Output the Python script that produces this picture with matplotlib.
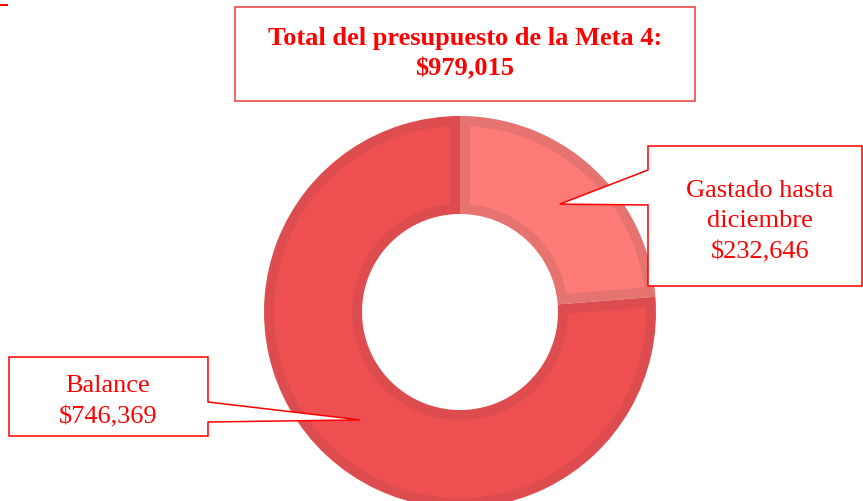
import numpy as np
import matplotlib.pyplot as plt
from matplotlib.patches import Polygon, Rectangle

# datos del presupuesto
categorias = ['Gastado hasta diciembre', 'Balance']
montos = [232646, 746369]
total = 979015
colores = ['#FF7B77', '#EE5052']
bordes = ['#E5736F', '#DD4D4F']

W, H = 863, 502
CX, CY = 460, 313      # centro de la dona (pixeles, desde arriba)
R, ANCHO = 196, 98
MARGEN = 10            # grosor del borde interior de cada sector
ROJO = '#FF0000'

plt.rcParams['font.family'] = ['Liberation Serif', 'DejaVu Serif']

fig = plt.figure(figsize=(W / 100, H / 100), dpi=100)
ax = fig.add_axes([0, 0, 1, 1])


def py(y):
    # pixel desde arriba -> coordenada de datos
    return H - y


# sectores con el color del borde
wedges, _ = ax.pie(montos, colors=bordes, startangle=90, counterclock=False,
                   radius=R, center=(CX, py(CY)),
                   wedgeprops=dict(width=ANCHO, linewidth=0))

# relleno interior de cada sector, metido MARGEN px hacia dentro
r_ext = R - MARGEN
r_int = R - ANCHO + MARGEN
for w, c in zip(wedges, colores):
    t1, t2 = np.deg2rad(w.theta1), np.deg2rad(w.theta2)
    de = np.arcsin(MARGEN / r_ext)
    di = np.arcsin(MARGEN / r_int)
    a_ext = np.linspace(t1 + de, t2 - de, 200)
    a_int = np.linspace(t2 - di, t1 + di, 200)
    xs = np.r_[CX + r_ext * np.cos(a_ext), CX + r_int * np.cos(a_int)]
    ys = np.r_[py(CY) + r_ext * np.sin(a_ext), py(CY) + r_int * np.sin(a_int)]
    ax.add_patch(Polygon(np.c_[xs, ys], closed=True, facecolor=c, lw=0, zorder=2))

ax.set_xlim(0, W)
ax.set_ylim(0, H)
ax.set_aspect('auto')
ax.axis('off')

# punto medio de cada sector, para la punta del globo
r_medio = R - ANCHO / 2
puntas = []
for w in wedges:
    ang = np.deg2rad((w.theta1 + w.theta2) / 2)
    puntas.append((CX + r_medio * np.cos(ang), py(CY) + r_medio * np.sin(ang)))


def globo(x0, y0, x1, y1, j0, j1, punta, lado):
    if lado == 'izq':
        pts = [(x0, y0), (x1, y0), (x1, y1), (x0, y1), (x0, j1), None, (x0, j0)]
    else:
        pts = [(x0, y0), (x1, y0), (x1, j0), None, (x1, j1), (x1, y1), (x0, y1)]
    out = []
    for p in pts:
        if p is None:
            out.append(punta)
        else:
            out.append((p[0], py(p[1])))
    ax.add_patch(Polygon(out, closed=True, facecolor='white', edgecolor=ROJO,
                         linewidth=1.1, zorder=5))


globo(648, 147, 862, 287, 171, 206, puntas[0], 'izq')
globo(9, 358, 208, 437, 403, 423, puntas[1], 'der')

# etiquetas
txt = dict(color=ROJO, fontsize=19, ha='center', va='baseline', zorder=6)
ax.text(760, py(197), 'Gastado hasta', **txt)
ax.text(760, py(227), 'diciembre', **txt)
ax.text(760, py(258), '${:,}'.format(montos[0]), **txt)
ax.text(108, py(392), 'Balance', **txt)
ax.text(108, py(423), '${:,}'.format(montos[1]), **txt)

# cuadro del total
ax.add_patch(Rectangle((235, py(102)), 460, 94, facecolor='white',
                       edgecolor='#E53A3A', linewidth=1.1, zorder=5))
ax.text(465, py(45), 'Total del presupuesto de la Meta 4:', fontweight='bold', **txt)
ax.text(465, py(75), '${:,}'.format(total), fontweight='bold', **txt)

# marcas sueltas arriba a la izquierda
ax.add_patch(Rectangle((0, py(1)), 3, 1, color=ROJO, lw=0))
ax.add_patch(Rectangle((0, py(7)), 8, 2, color=ROJO, lw=0))

fig.savefig('out.png', dpi=100)
